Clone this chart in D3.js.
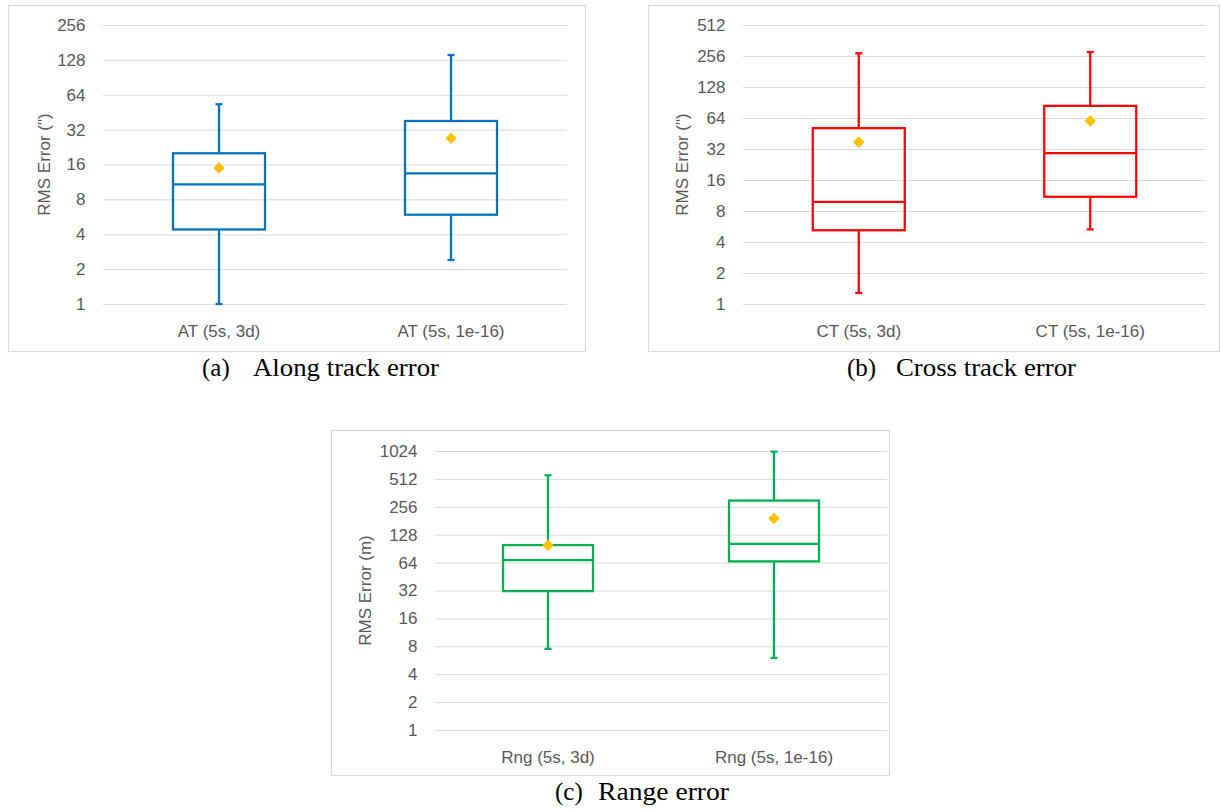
<!DOCTYPE html>
<html>
<head>
<meta charset="utf-8">
<script src="https://cdn.jsdelivr.net/npm/d3@7"></script>
<style>
  html, body { margin: 0; padding: 0; background: #fff; }
  svg { display: block; }
</style>
</head>
<body>
<svg id="chart" width="1221" height="810"></svg>
<script>
// ---------- DATA ----------
const atCategories = ["AT (5s, 3d)", "AT (5s, 1e-16)"];
const atMin    = [1.0, 2.4];
const atQ1     = [4.4, 5.9];
const atMedian = [10.8, 13.4];
const atQ3     = [20, 38];
const atMax    = [53, 141];
const atMean   = [14.9, 27];
const atTicks  = [1, 2, 4, 8, 16, 32, 64, 128, 256];

const ctCategories = ["CT (5s, 3d)", "CT (5s, 1e-16)"];
const ctMin    = [1.28, 5.3];
const ctQ1     = [5.2, 11];
const ctMedian = [9.8, 29.2];
const ctQ3     = [51, 84];
const ctMax    = [272, 280];
const ctMean   = [37.3, 60];
const ctTicks  = [1, 2, 4, 8, 16, 32, 64, 128, 256, 512];

const rngCategories = ["Rng (5s, 3d)", "Rng (5s, 1e-16)"];
const rngMin    = [7.5, 6.0];
const rngQ1     = [31.5, 66];
const rngMedian = [68, 102];
const rngQ3     = [99, 299];
const rngMax    = [560, 1008];
const rngMean   = [98.5, 191];
const rngTicks  = [1, 2, 4, 8, 16, 32, 64, 128, 256, 512, 1024];

const yTitles  = ["RMS Error (\")", "RMS Error (\")", "RMS Error (m)"];
const captions = ["(a)", "(b)", "(c)"];
const captionTexts = ["Along track error", "Cross track error", "Range error"];

// ---------- LAYOUT ----------
const svg = d3.select("#chart");
const sansFont = "'Liberation Sans', Arial, sans-serif";
const panels = [
  { cats: atCategories, min: atMin, q1: atQ1, med: atMedian, q3: atQ3, max: atMax, mean: atMean, ticks: atTicks,
    color: "#0070C0", frame: [8, 5, 585, 351], plot: [103, 25, 567, 304], titleX: 50, boxW: 92,
    cap: { y: 376, lx: 202, tx: 253, tw: 186 } },
  { cats: ctCategories, min: ctMin, q1: ctQ1, med: ctMedian, q3: ctQ3, max: ctMax, mean: ctMean, ticks: ctTicks,
    color: "#FF0000", frame: [648, 5, 1219, 351], plot: [743, 25, 1206, 304], titleX: 688, boxW: 92,
    cap: { y: 376, lx: 847, tx: 896, tw: 180 } },
  { cats: rngCategories, min: rngMin, q1: rngQ1, med: rngMedian, q3: rngQ3, max: rngMax, mean: rngMean, ticks: rngTicks,
    color: "#00B050", frame: [331, 430, 889, 775], plot: [435, 451, 887, 730], titleX: 371, boxW: 90,
    cap: { y: 800, lx: 555, tx: 598, tw: 131 } }
];

panels.forEach((p, i) => {
  const [fx0, fy0, fx1, fy1] = p.frame;
  const [px0, py0, px1, py1] = p.plot;
  const g = svg.append("g");

  g.append("rect")
    .attr("x", fx0 + 0.5).attr("y", fy0 + 0.5)
    .attr("width", fx1 - fx0).attr("height", fy1 - fy0)
    .attr("fill", "#fff").attr("stroke", "#D9D9D9").attr("stroke-width", 1.2);

  const y = d3.scaleLog().base(2)
    .domain([p.ticks[0], p.ticks[p.ticks.length - 1]])
    .range([py1, py0]);
  const x = d3.scaleBand().domain(p.cats).range([px0, px1]).padding(0);

  const yAxis = d3.axisLeft(y)
    .tickValues(p.ticks)
    .tickFormat(d3.format("d"))
    .tickSize(-(px1 - px0))
    .tickPadding(17.5);
  const ya = g.append("g").attr("transform", `translate(${px0},0)`).call(yAxis);
  ya.select(".domain").remove();
  ya.selectAll(".tick line").attr("stroke", "#D9D9D9").attr("stroke-width", 1);
  ya.selectAll(".tick text")
    .attr("fill", "#595959")
    .style("font-family", sansFont)
    .style("font-size", "17px");

  const xAxis = d3.axisBottom(x).tickSize(0).tickPadding(21);
  const xa = g.append("g").attr("transform", `translate(0,${py1})`).call(xAxis);
  xa.select(".domain").remove();
  xa.selectAll(".tick text")
    .attr("fill", "#595959")
    .style("font-family", sansFont)
    .style("font-size", "17px");

  g.append("text")
    .attr("transform", `translate(${p.titleX},${(py0 + py1) / 2}) rotate(-90)`)
    .attr("text-anchor", "middle")
    .attr("fill", "#595959")
    .style("font-family", sansFont)
    .style("font-size", "17px")
    .text(yTitles[i]);

  const idx = d3.range(p.cats.length);
  const cx = k => x(p.cats[k]) + x.bandwidth() / 2;
  const bw = p.boxW;
  const capW = 7;
  const sw = 2.25;

  idx.forEach(k => {
    const c = cx(k);
    g.append("line").attr("x1", c).attr("x2", c).attr("y1", y(p.max[k])).attr("y2", y(p.q3[k]))
      .attr("stroke", p.color).attr("stroke-width", sw);
    g.append("line").attr("x1", c).attr("x2", c).attr("y1", y(p.q1[k])).attr("y2", y(p.min[k]))
      .attr("stroke", p.color).attr("stroke-width", sw);
    g.append("line").attr("x1", c - capW / 2).attr("x2", c + capW / 2).attr("y1", y(p.max[k])).attr("y2", y(p.max[k]))
      .attr("stroke", p.color).attr("stroke-width", sw);
    g.append("line").attr("x1", c - capW / 2).attr("x2", c + capW / 2).attr("y1", y(p.min[k])).attr("y2", y(p.min[k]))
      .attr("stroke", p.color).attr("stroke-width", sw);
    g.append("rect")
      .attr("x", c - bw / 2).attr("y", y(p.q3[k]))
      .attr("width", bw).attr("height", y(p.q1[k]) - y(p.q3[k]))
      .attr("fill", "none").attr("stroke", p.color).attr("stroke-width", sw);
    g.append("line").attr("x1", c - bw / 2).attr("x2", c + bw / 2)
      .attr("y1", y(p.med[k])).attr("y2", y(p.med[k]))
      .attr("stroke", p.color).attr("stroke-width", sw);
    g.append("path")
      .attr("d", d3.symbol(d3.symbolDiamond2, 85)())
      .attr("transform", `translate(${c},${y(p.mean[k])})`)
      .attr("fill", "#FFC000");
  });

  const serif = "'Liberation Serif', 'Times New Roman', serif";
  svg.append("text")
    .attr("x", p.cap.lx).attr("y", p.cap.y)
    .attr("fill", "#000")
    .style("font-family", serif).style("font-size", "25px")
    .text(captions[i]);
  svg.append("text")
    .attr("x", p.cap.tx).attr("y", p.cap.y)
    .attr("textLength", p.cap.tw).attr("lengthAdjust", "spacingAndGlyphs")
    .attr("fill", "#000")
    .style("font-family", serif).style("font-size", "25px")
    .text(captionTexts[i]);
});
</script>
</body>
</html>
